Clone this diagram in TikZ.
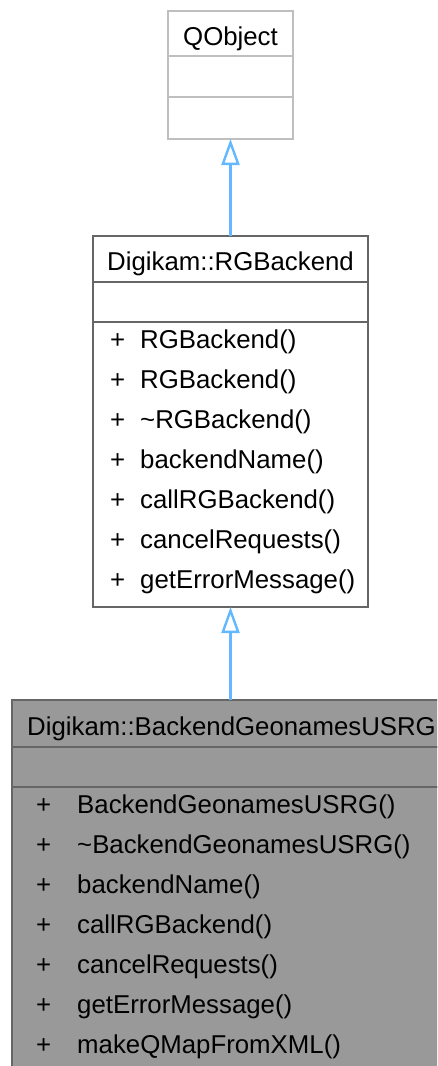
\documentclass[tikz,border=0pt]{standalone}
\usepackage{fontspec}
\setmainfont{Liberation Sans}
\usetikzlibrary{arrows.meta}
\definecolor{edgeblue}{HTML}{63B8FF}
\definecolor{lightframe}{HTML}{BFBFBF}
\definecolor{darkframe}{HTML}{666666}
\definecolor{activefill}{HTML}{999999}
\tikzset{
  cell/.style={draw, line width=2pt, inner sep=0pt, outer sep=0pt, anchor=north west},
  member/.style={inner sep=0pt, anchor=base west, font=\fontsize{25.8}{30}\selectfont},
  inherit/.style={draw=edgeblue, line width=2.4pt,
    -{Triangle[open, length=26pt, width=18pt, fill=white]}}
}
\begin{document}
\begin{tikzpicture}[x=1pt,y=-1pt]
   \useasboundingbox (0,0) rectangle (437,1066);
   \clip (0,0) rectangle (437,1066);
   % QObject
   \node[cell, draw=lightframe, minimum width=125pt, minimum height=45pt] (qobj-t) at (168,11) {};
   \node[cell, draw=lightframe, minimum width=125pt, minimum height=41pt] (qobj-a) at (qobj-t.south west) {};
   \node[cell, draw=lightframe, minimum width=125pt, minimum height=42pt] (qobj-m) at (qobj-a.south west) {};
   \node[member, anchor=base] (qobj-l) at (230.5,45) {QObject};
   % Digikam::RGBackend
   \node[cell, draw=darkframe, fill=white, minimum width=275pt, minimum height=46pt] (rgb-t) at (93,236) {};
   \node[cell, draw=darkframe, minimum width=275pt, minimum height=40pt] (rgb-a) at (rgb-t.south west) {};
   \node[cell, draw=darkframe, minimum width=275pt, minimum height=285pt] (rgb-m) at (rgb-a.south west) {};
   \node[member, anchor=base] (rgb-l) at (230.5,270) {Digikam::RGBackend};
   \foreach \m [count=\i] in {RGBackend(), RGBackend(), \textasciitilde RGBackend(),
       backendName(), callRGBackend(), cancelRequests(), getErrorMessage()}
   {
     \node[member] (rgb-p\i) at (110,308+40*\i) {+};
     \node[member] (rgb-f\i) at (140,308+40*\i) {\m};
   }
   % Digikam::BackendGeonamesUSRG
   \node[cell, draw=darkframe, fill=activefill, minimum width=440pt, minimum height=47pt] (usrg-t) at (12,700) {};
   \node[cell, draw=darkframe, fill=activefill, minimum width=440pt, minimum height=40pt] (usrg-a) at (usrg-t.south west) {};
   \node[cell, draw=darkframe, fill=activefill, minimum width=440pt, minimum height=300pt] (usrg-m) at (usrg-a.south west) {};
   \node[member] (usrg-l) at (27,735) {Digikam::BackendGeonamesUSRG};
   \foreach \m [count=\i] in {BackendGeonamesUSRG(), \textasciitilde BackendGeonamesUSRG(),
       backendName(), callRGBackend(), cancelRequests(), getErrorMessage(), makeQMapFromXML()}
   {
     \node[member] (usrg-p\i) at (36,773+40*\i) {+};
     \node[member] (usrg-f\i) at (77,773+40*\i) {\m};
   }
   % inheritance
   \draw[inherit] (rgb-t.north -| qobj-m.south) -- (qobj-m.south);
   \draw[inherit] (usrg-t.north -| rgb-m.south) -- (rgb-m.south);
\end{tikzpicture}
\end{document}
